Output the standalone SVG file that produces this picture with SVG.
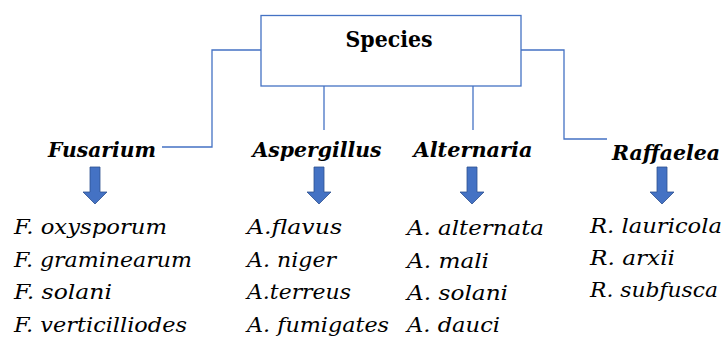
<svg xmlns="http://www.w3.org/2000/svg" width="725" height="338" viewBox="0 0 725 338">
<defs>
<style>
.box{fill:#fff;stroke:#4472c4;stroke-width:1.3}
.ln{fill:none;stroke:#4472c4;stroke-width:1.3}
.arr{fill:#4472c4;stroke:#2f528f;stroke-width:0.8}
.t{font-family:'DejaVu Serif','Liberation Serif',serif;fill:#000}
.title{font-size:22px;font-weight:bold}
.cat{font-size:20px;font-weight:bold;font-style:italic}
.sp{font-size:21px;font-style:italic}
</style>
</defs>
<g id="connectors">
<polyline class="ln" points="261,50 212,50 212,147 162,147"/>
<polyline class="ln" points="521,50 564,50 564,139 607,139"/>
<line class="ln" x1="324" y1="86" x2="324" y2="130"/>
<line class="ln" x1="473" y1="86" x2="473" y2="130"/>
</g>
<g id="species">
<rect class="box" x="261" y="15.5" width="260" height="70.5"/>
<text class="t title" x="389" y="47" text-anchor="middle" textLength="87" lengthAdjust="spacingAndGlyphs">Species</text>
</g>
<g id="fusarium">
<text class="t cat" x="102" y="157" text-anchor="middle" textLength="108" lengthAdjust="spacingAndGlyphs">Fusarium</text>
<path class="arr" d="M90,167 H100 V192 H107 L95,204 L83,192 H90 Z"/>
<text class="t sp" x="14" y="234" textLength="153" lengthAdjust="spacingAndGlyphs">F. oxysporum</text>
<text class="t sp" x="14" y="267" textLength="178" lengthAdjust="spacingAndGlyphs">F. graminearum</text>
<text class="t sp" x="14" y="299" textLength="98" lengthAdjust="spacingAndGlyphs">F. solani</text>
<text class="t sp" x="14" y="332" textLength="173" lengthAdjust="spacingAndGlyphs">F. verticilliodes</text>
</g>
<g id="aspergillus">
<text class="t cat" x="317" y="157" text-anchor="middle" textLength="129" lengthAdjust="spacingAndGlyphs">Aspergillus</text>
<path class="arr" d="M314,167 H324 V192 H331 L319,204 L307,192 H314 Z"/>
<text class="t sp" x="247" y="234" textLength="95" lengthAdjust="spacingAndGlyphs">A.flavus</text>
<text class="t sp" x="247" y="267" textLength="89" lengthAdjust="spacingAndGlyphs">A. niger</text>
<text class="t sp" x="247" y="299" textLength="104" lengthAdjust="spacingAndGlyphs">A.terreus</text>
<text class="t sp" x="247" y="332" textLength="142" lengthAdjust="spacingAndGlyphs">A. fumigates</text>
</g>
<g id="alternaria">
<text class="t cat" x="473" y="157" text-anchor="middle" textLength="119" lengthAdjust="spacingAndGlyphs">Alternaria</text>
<path class="arr" d="M467,167 H477 V192 H484 L472,204 L460,192 H467 Z"/>
<text class="t sp" x="407" y="235" textLength="137" lengthAdjust="spacingAndGlyphs">A. alternata</text>
<text class="t sp" x="407" y="268" textLength="82" lengthAdjust="spacingAndGlyphs">A. mali</text>
<text class="t sp" x="407" y="300" textLength="101" lengthAdjust="spacingAndGlyphs">A. solani</text>
<text class="t sp" x="407" y="332" textLength="93" lengthAdjust="spacingAndGlyphs">A. dauci</text>
</g>
<g id="raffaelea">
<text class="t cat" x="666" y="160" text-anchor="middle" textLength="108" lengthAdjust="spacingAndGlyphs">Raffaelea</text>
<path class="arr" d="M657,167 H667 V192 H674 L662,204 L650,192 H657 Z"/>
<text class="t sp" x="590" y="233" textLength="132" lengthAdjust="spacingAndGlyphs">R. lauricola</text>
<text class="t sp" x="590" y="265" textLength="85" lengthAdjust="spacingAndGlyphs">R. arxii</text>
<text class="t sp" x="590" y="297" textLength="128" lengthAdjust="spacingAndGlyphs">R. subfusca</text>
</g>
</svg>
